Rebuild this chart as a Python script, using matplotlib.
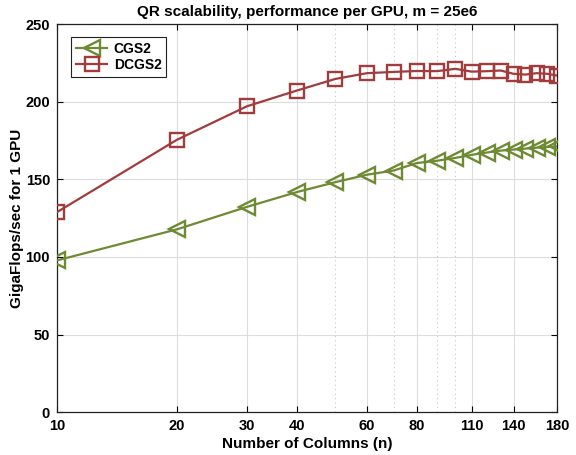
import matplotlib
matplotlib.use("Agg")
import matplotlib.pyplot as plt
from matplotlib.ticker import FixedLocator, NullFormatter

# number of columns n, GFlops/s per GPU (m = 25e6)
ncols = [10, 20, 30, 40, 50, 60, 70, 80, 90, 100, 110, 120, 130, 140, 150, 160, 170, 180]
cgs2 = [97.8, 117.8, 132.3, 141.8, 148.2, 153.0, 155.7, 160.5, 162.0, 163.8, 165.8,
        167.3, 168.5, 169.2, 169.8, 170.4, 170.8, 171.2]
dcgs2 = [128.9, 175.5, 197.1, 207.2, 214.7, 218.4, 219.2, 219.8, 219.7, 221.2, 219.4,
         219.7, 220.1, 218.0, 217.5, 218.4, 218.0, 216.9]

xticks = [10, 20, 30, 40, 60, 80, 110, 140, 180]
xminor = [50, 70, 90, 100]
yticks = [0, 50, 100, 150, 200, 250]

GREEN, RED = "#6E8A33", "#A23C3C"
plt.rcParams.update({"font.family": ["Liberation Sans", "DejaVu Sans"],
                     "font.weight": "bold", "font.size": 10.5})

fig = plt.figure(figsize=(5.76, 4.55), dpi=100)
ax = fig.add_axes([0.099, 0.094, 0.868, 0.853])

ax.plot(ncols, cgs2, color=GREEN, lw=1.6, marker="<", ms=12, mfc="none",
        mew=1.7, label="CGS2", zorder=3)
ax.plot(ncols, dcgs2, color=RED, lw=1.6, marker="s", ms=9.5, mfc="none",
        mew=1.7, label="DCGS2", zorder=3)

ax.set_xscale("log")
ax.set_xlim(10, 180)
ax.set_ylim(0, 250)
ax.xaxis.set_major_locator(FixedLocator(xticks))
ax.xaxis.set_minor_locator(FixedLocator(xminor))
ax.xaxis.set_minor_formatter(NullFormatter())
ax.set_xticks(xticks, [str(t) for t in xticks])
ax.set_yticks(yticks)

ax.grid(which="major", color="#dddddd", lw=0.8, zorder=0)
ax.grid(which="minor", axis="x", color="#c8c8c8", lw=0.8, ls=(0, (1, 3)), zorder=0)
ax.tick_params(which="both", direction="in", top=True, right=True, length=4,
               width=0.8, labelsize=10.5)
ax.tick_params(axis="x", pad=5)
ax.tick_params(axis="y", pad=5)
ax.tick_params(which="minor", length=0)
for s in ax.spines.values():
    s.set_linewidth(0.9)
    s.set_color("#222222")

ax.set_title("QR scalability, performance per GPU, m = 25e6", fontsize=11,
             fontweight="bold", pad=6)
ax.set_xlabel("Number of Columns (n)", fontsize=11, fontweight="bold", labelpad=3)
ax.set_ylabel("GigaFlops/sec for 1 GPU", fontsize=11, fontweight="bold", labelpad=1)

leg = ax.legend(loc="upper left", fancybox=False, edgecolor="#222222",
                framealpha=1, fontsize=10, handlelength=2.2, borderpad=0.35,
                labelspacing=0.15, handletextpad=0.5,
                bbox_to_anchor=(0.015, 0.985))
leg.get_frame().set_linewidth(0.8)

fig.savefig("out.png", dpi=100)
